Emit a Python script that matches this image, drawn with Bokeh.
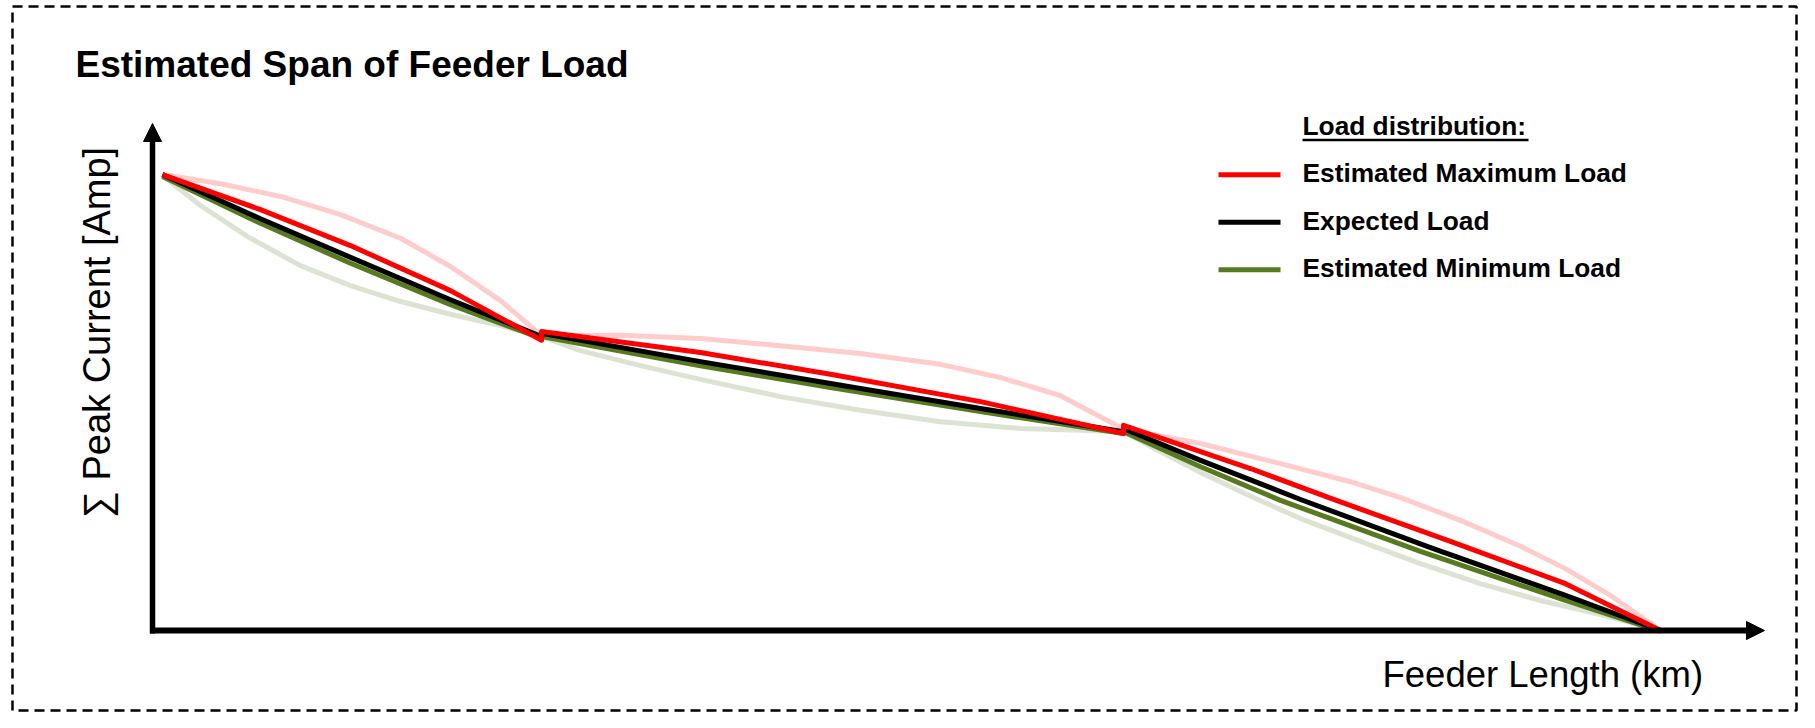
import math
from bokeh.plotting import figure
from bokeh.models import Range1d, Arrow, NormalHead, Label, BoxAnnotation
from bokeh.embed import file_html
from bokeh.resources import INLINE

# ---- data (feeder length in % of feeder, summed peak current in % of peak) ----
x_max = [0.66, 7.16, 13.13, 19.76, 25.80, 25.80, 36.34, 44.96, 54.91, 64.39, 64.39, 72.81, 78.32, 86.07, 93.70, 100]
y_max = [100.2, 92.5, 84.6, 74.7, 63.8, 65.7, 61.1, 56.3, 50.3, 43.3, 45.1, 35.6, 28.8, 19.6, 10.3, 0]

x_exp = [0.66, 7.16, 13.13, 19.76, 25.80, 25.80, 36.34, 44.96, 54.91, 64.39, 64.39, 69.50, 76.13, 84.75, 93.70, 100]
y_exp = [100.2, 90.5, 82.0, 72.7, 64.6, 65.3, 59.1, 54.3, 48.8, 43.7, 44.4, 37.4, 28.8, 18.2, 7.7, 0]

x_min = [0.66, 7.16, 13.13, 19.76, 25.80, 25.80, 36.34, 44.96, 54.91, 64.39, 64.39, 69.50, 74.80, 84.08, 93.70, 100]
y_min = [99.8, 89.5, 80.7, 71.6, 64.2, 64.6, 58.2, 53.4, 48.1, 43.3, 43.7, 36.0, 28.6, 17.4, 6.6, -0.2]

# upper / lower envelopes (faint)
x_hi = [0.66, 4.51, 8.49, 12.47, 16.45, 19.76, 23.08, 25.80, 31.03, 36.34, 41.64, 46.95, 52.25, 56.23,
        60.21, 64.39, 69.50, 74.54, 79.44, 82.76, 86.74, 90.72, 93.70, 96.68, 100]
y_hi = [100.2, 98.2, 95.4, 91.4, 86.2, 80.0, 72.5, 64.8, 64.9, 64.2, 62.6, 60.9, 58.5, 55.6,
        51.6, 44.3, 41.1, 36.9, 32.7, 29.2, 24.2, 18.5, 13.6, 7.7, 0]

x_lo = [0.66, 3.18, 6.50, 9.81, 13.13, 16.45, 19.76, 23.08, 25.80, 28.38, 32.36, 36.34, 41.64, 46.95,
        52.25, 57.56, 61.54, 64.39, 66.84, 69.50, 72.81, 76.13, 80.11, 84.08, 88.06, 92.04, 96.02, 100]
y_lo = [100.0, 93.4, 86.2, 80.2, 75.8, 72.3, 69.5, 67.0, 64.6, 61.5, 58.2, 55.2, 51.4, 48.4,
        45.9, 44.4, 44.0, 43.7, 39.3, 34.7, 29.5, 24.6, 19.6, 14.7, 10.3, 6.6, 3.5, 0]

series_names = ["Estimated Maximum Load", "Expected Load", "Estimated Minimum Load"]
series_colors = ["#FF0000", "#000000", "#587A1F"]
legend_title = "Load distribution:"
title_text = "Estimated Span of Feeder Load"
x_label = "Feeder Length (km)"
y_label = "\u2211 Peak Current [Amp]"

# ---- layout helpers (picture pixel -> data) ----
W, H = 1799, 712
X0_IMG, XPX = 152.0, 15.08
Y0_IMG, YPX = 630.0, 4.55
def dx(px):
    return (px - X0_IMG) / XPX
def dy(py):
    return (Y0_IMG - py) / YPX

xr = Range1d(dx(0), dx(0) + W / XPX)
yr = Range1d(dy(H), dy(0))

p = figure(width=W, height=H, output_backend="svg", toolbar_location=None,
           x_range=xr, y_range=yr, min_border=0,
           x_axis_location=None, y_axis_location=None)
p.outline_line_color = None
p.grid.visible = False
p.background_fill_color = "white"
p.border_fill_color = "white"

FONT = "Liberation Sans"

def text(x, base, s, size, bold=False, angle=0.0, align="left"):
    # anchor on the visual middle of the text (baseline - 0.35 em)
    if angle:
        lab = Label(x=dx(base - 0.35 * size), y=dy(x), angle=angle, text=s, text_font=FONT,
                    text_font_size=f"{size}px", text_color="black", text_baseline="middle", text_align=align)
    else:
        lab = Label(x=dx(x), y=dy(base - 0.35 * size), text=s, text_font=FONT,
                    text_font_size=f"{size}px", text_color="black", text_baseline="middle", text_align=align)
    if bold:
        lab.text_font_style = "bold"
    p.add_layout(lab)

# faint envelopes
p.line(x_hi, y_hi, line_color="#FFCCCC", line_width=5, line_join="round")
p.line(x_lo, y_lo, line_color="#DDE3D3", line_width=5, line_join="round")

# main series
for xs, ys, c in [(x_min, y_min, series_colors[2]), (x_exp, y_exp, series_colors[1]), (x_max, y_max, series_colors[0])]:
    p.line(xs, ys, line_color=c, line_width=5, line_join="round")

# axes with arrow heads
p.add_layout(Arrow(end=NormalHead(size=18, fill_color="black", line_color="black", line_width=1),
                   x_start=dx(152), y_start=dy(633), x_end=dx(152), y_end=dy(123),
                   line_width=5.5, line_color="black"))
p.add_layout(Arrow(end=NormalHead(size=18, fill_color="black", line_color="black", line_width=1),
                   x_start=dx(149.5), y_start=dy(630), x_end=dx(1764), y_end=dy(630),
                   line_width=6, line_color="black"))

# titles
text(75, 77, title_text, 37, bold=True)
text(1382, 687, x_label, 36.5)
text(332, 110, y_label, 38, angle=math.pi / 2, align="center")

# legend
LX_TEXT, LX0, LX1 = 1302, 1218, 1280
text(LX_TEXT, 135, legend_title, 26.3, bold=True)
p.segment(x0=[dx(1302)], x1=[dx(1528)], y0=[dy(139.5)], y1=[dy(139.5)], line_color="black", line_width=2.3)
for i, (name, c) in enumerate(zip(series_names, series_colors)):
    base = 182 + i * 47.5
    p.segment(x0=[dx(LX0)], x1=[dx(LX1)], y0=[dy(base - 7.7)], y1=[dy(base - 7.7)], line_color=c, line_width=5)
    text(LX_TEXT, base, name, 26.3, bold=True)

# dashed frame
p.add_layout(BoxAnnotation(left=dx(12), right=dx(1796), top=dy(6), bottom=dy(710),
                           fill_alpha=0, line_alpha=1, line_color="#000000", line_width=2.5, line_dash="10 6"))

open("out.html", "w").write(file_html(p, INLINE))
